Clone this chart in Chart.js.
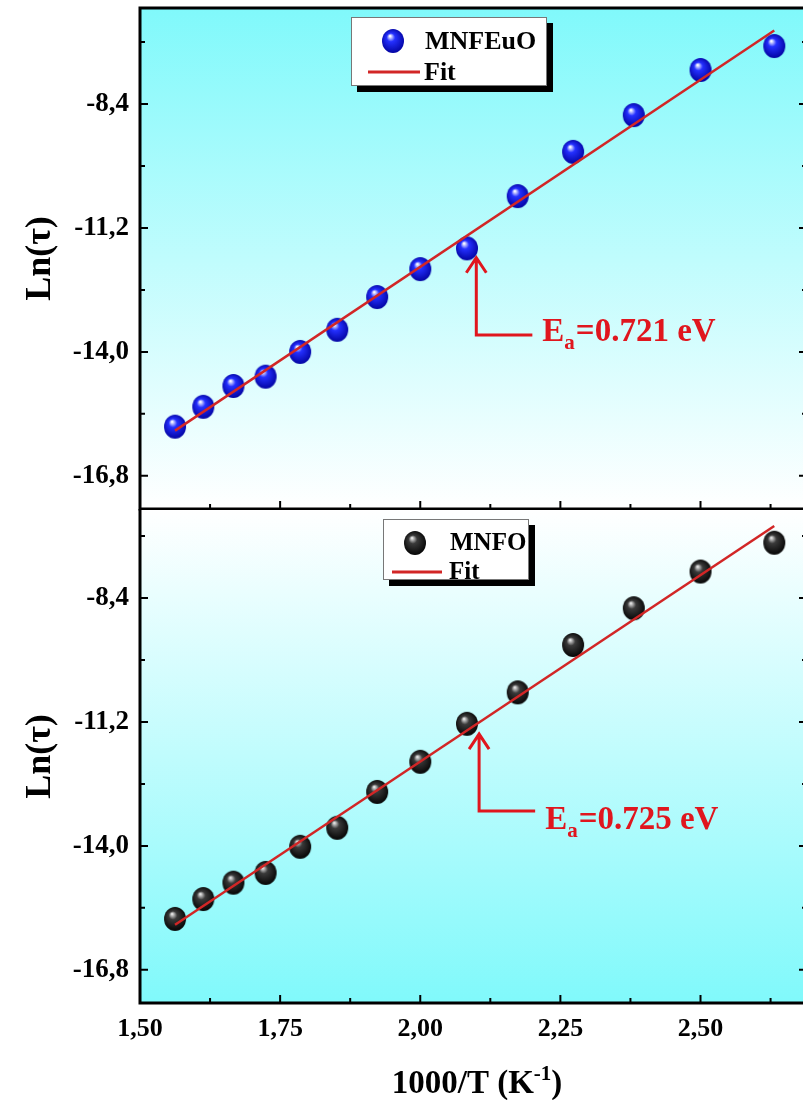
<!DOCTYPE html>
<html>
<head>
<meta charset="utf-8">
<script src="https://cdn.jsdelivr.net/npm/chart.js@4.4.1/dist/chart.umd.min.js"></script>
<style>
  html, body { margin: 0; padding: 0; background: #fff; overflow: hidden; }
  #wrap { position: relative; width: 803px; height: 1100px; overflow: hidden; }
  #topCanvas { position: absolute; left: 0; top: 0; }
  #botCanvas { position: absolute; left: 0; top: 509px; }
</style>
</head>
<body>
<div id="wrap">
  <canvas id="topCanvas" width="807" height="511"></canvas>
  <canvas id="botCanvas" width="807" height="591"></canvas>
</div>
<script>
// data
let invT = [1.5625, 1.6129, 1.6667, 1.7241, 1.7857, 1.8519, 1.9231, 2.0, 2.0833, 2.1739, 2.2727, 2.3810, 2.5, 2.6316]
let lnTauEu = [-15.69, -15.24, -14.77, -14.56, -14.0, -13.50, -12.76, -12.13, -11.66, -10.48, -9.48, -8.65, -7.63, -7.09]
let lnTauMnfo = [-15.65, -15.20, -14.83, -14.61, -14.02, -13.59, -12.78, -12.10, -11.24, -10.53, -9.46, -8.63, -7.80, -7.15]
let fitX = [1.5625, 2.6316]
let fitEu = [-15.78, -6.74]
let fitMnfo = [-15.78, -6.77]

let xTicks = [1.50, 1.75, 2.00, 2.25, 2.50]
let xMinor = [1.625, 1.875, 2.125, 2.375, 2.625]
let yTicks = [-16.8, -14.0, -11.2, -8.4]
let yMinor = [-15.4, -12.6, -9.8, -7.0]

let serif = '"Liberation Serif", "Times New Roman", serif'
let fitRed = '#d22626'
let noteRed = '#e0161e'

// shaded balls for the markers
function makeBall(light, mid, dark)
{
    let c = document.createElement('canvas')
    c.width = 24
    c.height = 26
    let g = c.getContext('2d')
    let grad = g.createRadialGradient(9, 8, 0.5, 12, 13, 13)
    grad.addColorStop(0, light)
    grad.addColorStop(0.3, mid)
    grad.addColorStop(1, dark)
    g.fillStyle = grad
    g.beginPath()
    g.ellipse(12, 13, 11, 12, 0, 0, Math.PI * 2)
    g.fill()
    return c
}
let blueBall = makeBall('#ffffff', '#2430ff', '#00009a')
let blackBall = makeBall('#e8e8e8', '#3a3a3a', '#000000')

function pts(xs, ys)
{
    return xs.map((x, i) => ({x: x, y: ys[i]}))
}

function fmt(v, d)
{
    return Number(v).toFixed(d).replace('.', ',')
}

// background, frame, inward ticks, legend, arrow note
let panelPlugin = {
    id: 'panel',
    beforeDraw(chart, args, o)
    {
        let ctx = chart.ctx, a = chart.chartArea
        let grad = ctx.createLinearGradient(0, a.top, 0, a.bottom)
        let cyan = 'rgb(128, 249, 251)'
        if (o.cyanTop)
        {
            grad.addColorStop(0, cyan)
            grad.addColorStop(1, '#ffffff')
        }
        else
        {
            grad.addColorStop(0, '#ffffff')
            grad.addColorStop(1, cyan)
        }
        ctx.save()
        ctx.fillStyle = grad
        ctx.fillRect(a.left, a.top, a.right - a.left, a.bottom - a.top)
        ctx.restore()
    },
    afterDraw(chart, args, o)
    {
        let ctx = chart.ctx, a = chart.chartArea
        let xs = chart.scales.x, ys = chart.scales.y
        ctx.save()
        ctx.strokeStyle = '#000'
        ctx.lineCap = 'butt'

        // ticks
        ctx.lineWidth = 2
        ctx.beginPath()
        yTicks.forEach(v => {
            let p = ys.getPixelForValue(v)
            ctx.moveTo(a.left, p); ctx.lineTo(a.left + 8, p)
            ctx.moveTo(a.right, p); ctx.lineTo(a.right - 8, p)
        })
        yMinor.forEach(v => {
            let p = ys.getPixelForValue(v)
            ctx.moveTo(a.left, p); ctx.lineTo(a.left + 5, p)
            ctx.moveTo(a.right, p); ctx.lineTo(a.right - 5, p)
        })
        xTicks.forEach(v => {
            let p = xs.getPixelForValue(v)
            ctx.moveTo(p, a.bottom); ctx.lineTo(p, a.bottom - 8)
        })
        xMinor.forEach(v => {
            let p = xs.getPixelForValue(v)
            ctx.moveTo(p, a.bottom); ctx.lineTo(p, a.bottom - 5)
        })
        ctx.stroke()

        // frame
        ctx.lineWidth = 3
        ctx.beginPath()
        ctx.moveTo(a.left, o.cyanTop ? a.top - 1.5 : 0)
        ctx.lineTo(a.left, a.bottom + 1.5)
        ctx.moveTo(a.left - 1.5, a.bottom)
        ctx.lineTo(a.right, a.bottom)
        ctx.moveTo(a.right, a.top)
        ctx.lineTo(a.right, a.bottom)
        if (o.cyanTop)
        {
            ctx.moveTo(a.left - 1.5, a.top)
            ctx.lineTo(a.right, a.top)
        }
        ctx.stroke()

        // legend box
        let L = o.legend
        ctx.fillStyle = '#000'
        ctx.fillRect(L.x + 6, L.y + 6, L.w, L.h)
        ctx.fillStyle = '#fff'
        ctx.fillRect(L.x, L.y, L.w, L.h)
        ctx.lineWidth = 1
        ctx.strokeStyle = '#777'
        ctx.strokeRect(L.x + 0.5, L.y + 0.5, L.w - 1, L.h - 1)
        ctx.drawImage(L.ball, L.ballX - 12, L.ballY - 13)
        ctx.strokeStyle = fitRed
        ctx.lineWidth = 3
        ctx.beginPath()
        ctx.moveTo(L.lineX0, L.lineY)
        ctx.lineTo(L.lineX1, L.lineY)
        ctx.stroke()
        ctx.fillStyle = '#000'
        ctx.font = 'bold ' + L.size + 'px ' + serif
        ctx.textBaseline = 'middle'
        ctx.textAlign = 'left'
        ctx.fillText(L.label, L.textX, L.ballY + 1)
        ctx.fillText('Fit', L.fitX, L.lineY + 1)

        // arrow with activation energy
        let N = o.note
        let tx = xs.getPixelForValue(N.tip[0]), ty = ys.getPixelForValue(N.tip[1])
        let cy = ys.getPixelForValue(N.cornerY)
        let ex = xs.getPixelForValue(N.endX)
        ctx.strokeStyle = noteRed
        ctx.lineWidth = 3
        ctx.beginPath()
        ctx.moveTo(tx - 10, ty + 16)
        ctx.lineTo(tx, ty + 1)
        ctx.lineTo(tx + 10, ty + 16)
        ctx.moveTo(tx, ty + 1)
        ctx.lineTo(tx, cy)
        ctx.lineTo(ex, cy)
        ctx.stroke()
        ctx.fillStyle = noteRed
        ctx.textBaseline = 'alphabetic'
        let px = ex + 10, by = cy + N.dy
        ctx.font = 'bold 33px ' + serif
        ctx.fillText('E', px, by)
        px += ctx.measureText('E').width
        ctx.font = 'bold 21px ' + serif
        ctx.fillText('a', px, by + 8)
        px += ctx.measureText('a').width + 1
        ctx.font = 'bold 33px ' + serif
        ctx.fillText(N.text, px, by)

        // x axis title
        if (o.xTitle)
        {
            ctx.fillStyle = '#000'
            let t1 = '1000/T (K', t2 = '-1', t3 = ')'
            ctx.font = 'bold 33px ' + serif
            let w1 = ctx.measureText(t1).width, w3 = ctx.measureText(t3).width
            ctx.font = 'bold 21px ' + serif
            let w2 = ctx.measureText(t2).width
            let sx = 477 - (w1 + w2 + w3) / 2, sy = 584
            ctx.font = 'bold 33px ' + serif
            ctx.fillText(t1, sx, sy)
            ctx.font = 'bold 21px ' + serif
            ctx.fillText(t2, sx + w1, sy - 13)
            ctx.font = 'bold 33px ' + serif
            ctx.fillText(t3, sx + w1 + w2, sy)
        }
        ctx.restore()
    }
}

function yScale(min, max)
{
    return {
        type: 'linear',
        min: min,
        max: max,
        grid: { display: false, drawTicks: false, tickLength: 0 },
        border: { display: false },
        afterBuildTicks: s => { s.ticks = yTicks.map(v => ({value: v})) },
        afterFit: s => { s.width = 140; s.paddingTop = 0; s.paddingBottom = 0 },
        ticks: {
            color: '#000',
            padding: 11,
            font: { family: serif, weight: 'bold', size: 27 },
            callback: v => fmt(v, 1)
        },
        title: {
            display: true,
            text: 'Ln(τ)',
            color: '#000',
            font: { family: serif, weight: 'bold', size: 36 },
            padding: { top: 19, bottom: 0 }
        }
    }
}

function makeChart(id, ys, fitYs, ball, name, yMin, yMax, pOpts, showX, pad)
{
    return new Chart(document.getElementById(id), {
        type: 'scatter',
        data: {
            datasets: [
                {
                    label: 'Fit',
                    type: 'line',
                    data: pts(fitX, fitYs),
                    borderColor: fitRed,
                    borderWidth: 2.5,
                    pointRadius: 0,
                    order: 0
                },
                {
                    label: name,
                    data: pts(invT, ys),
                    pointStyle: ball,
                    pointRadius: 11,
                    order: 1
                }
            ]
        },
        options: {
            responsive: false,
            animation: false,
            events: [],
            layout: { padding: pad, autoPadding: false },
            plugins: {
                legend: { display: false },
                tooltip: { enabled: false },
                panel: pOpts
            },
            scales: {
                x: {
                    type: 'linear',
                    min: 1.5,
                    max: 2.69,
                    display: showX,
                    grid: { display: false, drawTicks: false, tickLength: 0 },
                    border: { display: false },
                    afterBuildTicks: s => { s.ticks = xTicks.map(v => ({value: v})) },
                    afterFit: s => {
                        if (showX) s.height = 97
                        s.paddingLeft = 0
                        s.paddingRight = 0
                    },
                    ticks: {
                        color: '#000',
                        padding: 11,
                        maxRotation: 0,
                        font: { family: serif, weight: 'bold', size: 26 },
                        callback: v => fmt(v, 2)
                    }
                },
                y: yScale(yMin, yMax)
            }
        },
        plugins: [panelPlugin]
    })
}

makeChart('topCanvas', lnTauEu, fitEu, blueBall, 'MNFEuO', -17.55, -6.23, {
    cyanTop: true,
    legend: { x: 351, y: 17, w: 196, h: 69, ball: blueBall, ballX: 393, ballY: 41, label: 'MNFEuO', textX: 425,
              lineX0: 368, lineX1: 420, lineY: 72, fitX: 424, size: 26 },
    note: { tip: [2.10, -11.85], cornerY: -13.62, endX: 2.20, text: '=0.721 eV', dy: 6 },
    xTitle: false
}, false, { top: 8, bottom: 2, left: 0, right: 0 })

makeChart('botCanvas', lnTauMnfo, fitMnfo, blackBall, 'MNFO', -17.55, -6.41, {
    cyanTop: false,
    legend: { x: 383, y: 10, w: 146, h: 61, ball: blackBall, ballX: 415, ballY: 34, label: 'MNFO', textX: 450,
              lineX0: 392, lineX1: 442, lineY: 63, fitX: 449, size: 25 },
    note: { tip: [2.105, -11.45], cornerY: -13.21, endX: 2.205, text: '=0.725 eV', dy: 18 },
    xTitle: true
}, true, { top: 1, bottom: 0, left: 0, right: 0 })
</script>
</body>
</html>
